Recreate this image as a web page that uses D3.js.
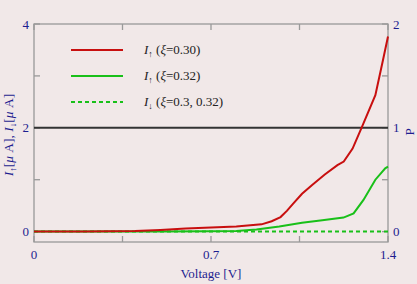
<!DOCTYPE html>
<html lang="en">
<head>
<meta charset="UTF-8">
<title>I-V curve</title>
<script src="https://d3js.org/d3.v7.min.js"></script>
<style>
    body { margin: 0; padding: 0; background: #f1e8e8; }
    svg { display: block; font-family: "Liberation Serif", "DejaVu Serif", serif; }
</style>
</head>
<body>
<div id="chart"></div>
<script>
// data
const voltsUp30 = [0, 0.2, 0.4, 0.5, 0.6, 0.7, 0.8, 0.9, 0.94, 0.975, 1.0, 1.025, 1.06, 1.1, 1.15, 1.2, 1.225, 1.26, 1.3, 1.35, 1.38, 1.4]
const currUp30  = [0, 0, 0.01, 0.03, 0.06, 0.08, 0.1, 0.14, 0.2, 0.28, 0.4, 0.54, 0.73, 0.9, 1.1, 1.28, 1.35, 1.6, 2.05, 2.63, 3.3, 3.76]

const voltsUp32 = [0, 0.5, 0.7, 0.8, 0.88, 0.97, 1.06, 1.14, 1.224, 1.264, 1.303, 1.35, 1.389, 1.4]
const currUp32  = [0, 0, 0.005, 0.01, 0.04, 0.1, 0.17, 0.22, 0.27, 0.35, 0.61, 1.0, 1.22, 1.25]

const voltsDown = [0, 1.4]
const currDown  = [0, 0]

const xTicks = [0, 0.7, 1.4]
const xMinor = [0.35, 1.05]
const yTicks = [0, 2, 4]
const yMinor = [1, 3]
const pTicks = [0, 1, 2]
const pMinor = [0.5, 1.5]

const legendLabels = [
    { arrow: "\u2191", xi: "=0.30)", color: "#c80f0f", dash: null },
    { arrow: "\u2191", xi: "=0.32)", color: "#19c019", dash: null },
    { arrow: "\u2193", xi: "=0.3, 0.32)", color: "#19c019", dash: "4,3" }
]

const width = 417, height = 284
const margin = { top: 24, right: 29, bottom: 42, left: 34 }
const innerW = width - margin.left - margin.right
const innerH = height - margin.top - margin.bottom

const svg = d3.select("#chart").append("svg")
    .attr("width", width).attr("height", height)

svg.append("rect").attr("width", width).attr("height", height).attr("fill", "#f1e8e8")

const g = svg.append("g").attr("transform", `translate(${margin.left},${margin.top})`)

const x = d3.scaleLinear().domain([0, 1.4]).range([0, innerW])
const y = d3.scaleLinear().domain([-0.2, 4]).range([innerH, 0])
const yP = d3.scaleLinear().domain([-0.1, 2]).range([innerH, 0])

const axisColor = "#999"
const textColor = "#1e1e90"

// frame
g.append("rect").attr("width", innerW).attr("height", innerH)
    .attr("fill", "none").attr("stroke", axisColor).attr("stroke-width", 1.3)

// ticks on the frame
const tl = 6
xTicks.concat(xMinor).forEach(v => {
    g.append("line").attr("x1", x(v)).attr("x2", x(v)).attr("y1", innerH).attr("y2", innerH - tl)
        .attr("stroke", axisColor).attr("stroke-width", 1.3)
    g.append("line").attr("x1", x(v)).attr("x2", x(v)).attr("y1", 0).attr("y2", tl)
        .attr("stroke", axisColor).attr("stroke-width", 1.3)
})
yTicks.concat(yMinor).forEach(v => {
    g.append("line").attr("x1", 0).attr("x2", tl).attr("y1", y(v)).attr("y2", y(v))
        .attr("stroke", axisColor).attr("stroke-width", 1.3)
})
pTicks.concat(pMinor).forEach(v => {
    g.append("line").attr("x1", innerW).attr("x2", innerW - tl).attr("y1", yP(v)).attr("y2", yP(v))
        .attr("stroke", axisColor).attr("stroke-width", 1.3)
})

// tick labels
g.selectAll(".xl").data(xTicks).enter().append("text")
    .attr("x", d => x(d)).attr("y", innerH + 17)
    .attr("text-anchor", "middle").attr("font-size", 13).attr("fill", textColor)
    .text(d => d)
g.selectAll(".yl").data(yTicks).enter().append("text")
    .attr("x", -5).attr("y", d => y(d)).attr("dy", "0.35em")
    .attr("text-anchor", "end").attr("font-size", 13).attr("fill", textColor)
    .text(d => d)
g.selectAll(".pl").data(pTicks).enter().append("text")
    .attr("x", innerW + 5).attr("y", d => yP(d)).attr("dy", "0.35em")
    .attr("text-anchor", "start").attr("font-size", 13).attr("fill", textColor)
    .text(d => d)

// axis titles
svg.append("text").attr("x", margin.left + innerW / 2).attr("y", 278)
    .attr("text-anchor", "middle").attr("font-size", 13).attr("fill", textColor)
    .text("Voltage [V]")

const yTitle = svg.append("text")
    .attr("transform", "translate(13,135) rotate(-90)")
    .attr("text-anchor", "middle").attr("font-size", 13.5).attr("fill", textColor)
yTitle.append("tspan").attr("font-style", "italic").text("I")
yTitle.append("tspan").attr("font-size", 9).attr("dy", 3).text("\u2191")
yTitle.append("tspan").attr("dy", -3).text("[")
yTitle.append("tspan").attr("font-style", "italic").text("\u03bc")
yTitle.append("tspan").text(" A], ")
yTitle.append("tspan").attr("font-style", "italic").text("I")
yTitle.append("tspan").attr("font-size", 9).attr("dy", 3).text("\u2193")
yTitle.append("tspan").attr("dy", -3).text("[")
yTitle.append("tspan").attr("font-style", "italic").text("\u03bc")
yTitle.append("tspan").text(" A]")

svg.append("text")
    .attr("transform", "translate(414,132) rotate(-90)")
    .attr("text-anchor", "middle").attr("font-size", 13).attr("fill", textColor)
    .text("P")

// reference line at I = 2 (P = 1)
g.append("line").attr("x1", 0).attr("x2", innerW).attr("y1", y(2)).attr("y2", y(2))
    .attr("stroke", "#333").attr("stroke-width", 2)

// curves
const line = d3.line().x(d => x(d[0])).y(d => y(d[1]))
const series = [
    { pts: d3.zip(voltsDown, currDown), color: "#19c019", dash: "4,3" },
    { pts: d3.zip(voltsUp32, currUp32), color: "#19c019", dash: null },
    { pts: d3.zip(voltsUp30, currUp30), color: "#c80f0f", dash: null }
]
series.forEach(s => {
    g.append("path").attr("d", line(s.pts))
        .attr("fill", "none").attr("stroke", s.color).attr("stroke-width", 2)
        .attr("stroke-dasharray", s.dash)
})

// legend
legendLabels.forEach((d, i) => {
    const ly = 50 + i * 26
    svg.append("line").attr("x1", 71).attr("x2", 123).attr("y1", ly).attr("y2", ly)
        .attr("stroke", d.color).attr("stroke-width", 2).attr("stroke-dasharray", d.dash)
    const t = svg.append("text").attr("x", 144).attr("y", ly + 4)
        .attr("font-size", 13).attr("fill", "#222")
    t.append("tspan").attr("font-style", "italic").text("I")
    t.append("tspan").attr("font-size", 9).attr("dy", 3).text(d.arrow)
    t.append("tspan").attr("dy", -3).text(" (")
    t.append("tspan").attr("font-style", "italic").text("\u03be")
    t.append("tspan").text(d.xi)
})
</script>
</body>
</html>
